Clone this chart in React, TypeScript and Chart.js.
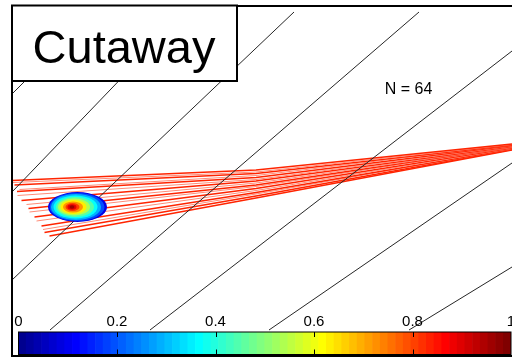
import React, { useEffect, useRef } from "react";
import { Chart, registerables } from "chart.js";
Chart.register(...registerables);

// ---------- data (plot units: x 0..100, y 0..70) ----------
// black diagonal lines (upper end -> lower end)
const lineX1 = [16.4, 34.6, 56.4, 81.4, 100, 100, 100];
const lineY1 = [68.8, 68.8, 68.8, 68.8, 61.0, 38.6, 17.8];
const lineX2 = [0, 0, 0, 7.6, 27.6, 51.4, 79.4];
const lineY2 = [52.4, 32.8, 15.2, 5.2, 5.2, 5.2, 5.2];

// red fan lines: left start, middle, right end
const fanX0 = [0, 0.2, 0.5, 1.5, 1.0, 1.1, 1.9, 2.9, 3.3, 3.5, 4.5, 4.9, 5.9, 6.2, 6.5, 7.5];
const fanY0 = [35.1, 34.7, 34.2, 33.3, 32.9, 32.1, 31.1, 30.3, 29.5, 28.8, 27.8, 27.0, 26.0, 25.3, 24.7, 24.0];
const fanXMid = [48.8, 48.8, 48.8, 48.8, 48.8, 48.8, 48.8, 48.8, 48.8, 48.8, 48.8, 48.8, 48.8, 48.8, 48.8, 48.8];
const fanYMid = [37.2, 36.8, 36.5, 36.1, 35.7, 35.3, 35.0, 34.6, 34.2, 33.9, 33.5, 33.1, 32.7, 32.4, 32.0, 31.6];
const fanX1 = [100, 100, 100, 100, 100, 100, 100, 100, 100, 100, 100, 100, 100, 100, 100, 100];
const fanY1 = [42.4, 42.3, 42.2, 42.2, 42.1, 42.0, 41.9, 41.8, 41.8, 41.7, 41.6, 41.5, 41.4, 41.4, 41.3, 41.2];
const fanBright = [1, 0, 1, 0, 1, 0, 1, 0, 1, 0, 1, 0, 1, 0, 1, 1];

// blob: nested contour levels (value on colour scale) and ellipse geometry
const blobLevel = [0.1, 0.2, 0.3, 0.38, 0.46, 0.55, 0.64, 0.73, 0.82, 0.9, 0.97];
const blobCx = [13.1, 13.0, 12.8, 12.7, 12.6, 12.4, 12.3, 12.2, 12.1, 12.0, 12.0];
const blobCy = [29.8, 29.8, 29.8, 29.8, 29.8, 29.8, 29.8, 29.8, 29.8, 29.8, 29.8];
const blobRx = [5.9, 5.5, 5.0, 4.4, 3.8, 3.2, 2.6, 2.0, 1.4, 0.9, 0.5];
const blobRy = [3.0, 2.8, 2.6, 2.3, 2.0, 1.7, 1.4, 1.1, 0.8, 0.55, 0.35];

// annotation
const titleText = "Cutaway";
const nText = "N = 64";
const nTextPos = [79.3, 52.5];

// colour bar
const cbSteps = 64;
const cbTicks = [0, 0.2, 0.4, 0.6, 0.8, 1];

const FONT = '"Liberation Sans", Arial, Helvetica, sans-serif';

function jet(t: number): string {
  const c = (v: number) => Math.round(255 * Math.max(0, Math.min(1, v)));
  const r = c(1.5 - Math.abs(4 * t - 3));
  const g = c(1.5 - Math.abs(4 * t - 2));
  const b = c(1.5 - Math.abs(4 * t - 1));
  return `rgb(${r},${g},${b})`;
}

export default function App() {
  const mainRef = useRef<HTMLCanvasElement | null>(null);
  const cbRef = useRef<HTMLCanvasElement | null>(null);

  useEffect(() => {
    const datasets: any[] = [];
    for (let i = 0; i < lineX1.length; i++) {
      datasets.push({
        data: [
          { x: lineX1[i], y: lineY1[i] },
          { x: lineX2[i], y: lineY2[i] },
        ],
        showLine: true,
        pointRadius: 0,
        borderColor: "#262626",
        borderWidth: 1,
        fill: false,
      });
    }
    for (let i = 0; i < fanX0.length; i++) {
      datasets.push({
        data: [
          { x: fanX0[i], y: fanY0[i] },
          { x: fanXMid[i], y: fanYMid[i] },
          { x: fanX1[i], y: fanY1[i] },
        ],
        showLine: true,
        pointRadius: 0,
        borderColor: fanBright[i] ? "rgb(255,36,0)" : "rgb(255,140,120)",
        borderWidth: fanBright[i] ? 1.3 : 1,
        fill: false,
      });
    }

    const decor = {
      id: "decor",
      afterDatasetsDraw(chart: any) {
        const { ctx, chartArea, scales } = chart;
        const x = scales.x, y = scales.y;
        ctx.save();
        ctx.beginPath();
        ctx.rect(chartArea.left, chartArea.top, chartArea.right - chartArea.left, chartArea.bottom - chartArea.top);
        ctx.clip();
        for (let i = 0; i < blobLevel.length; i++) {
          const px = x.getPixelForValue(blobCx[i]);
          const py = y.getPixelForValue(blobCy[i]);
          const rx = x.getPixelForValue(blobCx[i] + blobRx[i]) - px;
          const ry = py - y.getPixelForValue(blobCy[i] + blobRy[i]);
          ctx.fillStyle = jet(blobLevel[i]);
          ctx.beginPath();
          ctx.ellipse(px, py, rx, ry, 0, 0, Math.PI * 2);
          ctx.fill();
        }
        ctx.restore();
      },
      afterDraw(chart: any) {
        const { ctx, chartArea, scales } = chart;
        ctx.save();
        // frame
        ctx.strokeStyle = "#000";
        ctx.lineWidth = 2;
        ctx.strokeRect(chartArea.left, chartArea.top, chartArea.right - chartArea.left + 10, chartArea.bottom - chartArea.top);
        // N = 64
        ctx.fillStyle = "#000";
        ctx.font = `16px ${FONT}`;
        ctx.textAlign = "center";
        ctx.textBaseline = "alphabetic";
        ctx.fillText(nText, scales.x.getPixelForValue(nTextPos[0]), scales.y.getPixelForValue(nTextPos[1]));
        // title box
        ctx.fillStyle = "#fff";
        ctx.fillRect(12, 5, 225, 76);
        ctx.strokeRect(12, 5.5, 225, 75.5);
        ctx.fillStyle = "#000";
        ctx.font = `47px ${FONT}`;
        ctx.fillText(titleText, 124, 63);
        ctx.restore();
      },
    };

    const main = new Chart(mainRef.current as HTMLCanvasElement, {
      type: "scatter",
      data: { datasets },
      options: {
        animation: false,
        responsive: false,
        maintainAspectRatio: false,
        layout: { padding: { left: 12, top: 6, right: 0, bottom: 1 } },
        plugins: { legend: { display: false }, tooltip: { enabled: false } },
        scales: {
          x: { type: "linear", min: 0, max: 100, display: false },
          y: { type: "linear", min: 0, max: 70, display: false },
        },
      } as any,
      plugins: [decor],
    });

    const cbData: any[] = [];
    const cbColors: string[] = [];
    for (let i = 0; i < cbSteps; i++) {
      cbData.push({ x: (i + 0.5) / cbSteps, y: 1 });
      cbColors.push(jet((i + 1) / cbSteps));
    }

    const cbDecor = {
      id: "cbDecor",
      afterDatasetsDraw(chart: any) {
        const { ctx, chartArea, scales } = chart;
        ctx.save();
        ctx.strokeStyle = "#000";
        ctx.lineWidth = 1;
        for (const v of cbTicks) {
          if (v <= 0 || v >= 1) continue;
          const px = Math.round(scales.x.getPixelForValue(v)) + 0.5;
          ctx.beginPath();
          ctx.moveTo(px, chartArea.top);
          ctx.lineTo(px, chartArea.top + 5);
          ctx.moveTo(px, chartArea.bottom - 5);
          ctx.lineTo(px, chartArea.bottom);
          ctx.stroke();
        }
        ctx.strokeRect(chartArea.left, chartArea.top, chartArea.right - chartArea.left, chartArea.bottom - chartArea.top);
        ctx.restore();
      },
    };

    const cb = new Chart(cbRef.current as HTMLCanvasElement, {
      type: "bar",
      data: {
        datasets: [
          {
            data: cbData,
            backgroundColor: cbColors,
            borderWidth: 0,
            barPercentage: 1,
            categoryPercentage: 1,
          },
        ],
      },
      options: {
        animation: false,
        responsive: false,
        maintainAspectRatio: false,
        layout: { padding: { left: 18.5, right: 29, top: 312, bottom: 2.5 } },
        plugins: { legend: { display: false }, tooltip: { enabled: false } },
        scales: {
          x: {
            type: "linear",
            position: "top",
            min: 0,
            max: 1,
            offset: false,
            grid: { display: false, drawTicks: false },
            border: { display: false },
            afterBuildTicks: (s: any) => {
              s.ticks = cbTicks.map((v) => ({ value: v }));
            },
            ticks: {
              padding: 1,
              autoSkip: false,
              maxRotation: 0,
              color: "#000",
              font: { family: FONT, size: 15 },
              callback: (v: any) => String(v),
            },
          },
          y: { display: false, min: 0, max: 1 },
        },
      } as any,
      plugins: [cbDecor],
    });

    return () => {
      main.destroy();
      cb.destroy();
    };
  }, []);

  return (
    <div style={{ position: "absolute", left: 0, top: 0, width: 512, height: 357, overflow: "hidden", background: "#fff" }}>
      <canvas ref={mainRef} width={512} height={357} style={{ position: "absolute", left: 0, top: 0 }} />
      <canvas ref={cbRef} width={540} height={357} style={{ position: "absolute", left: 0, top: 0 }} />
    </div>
  );
}
